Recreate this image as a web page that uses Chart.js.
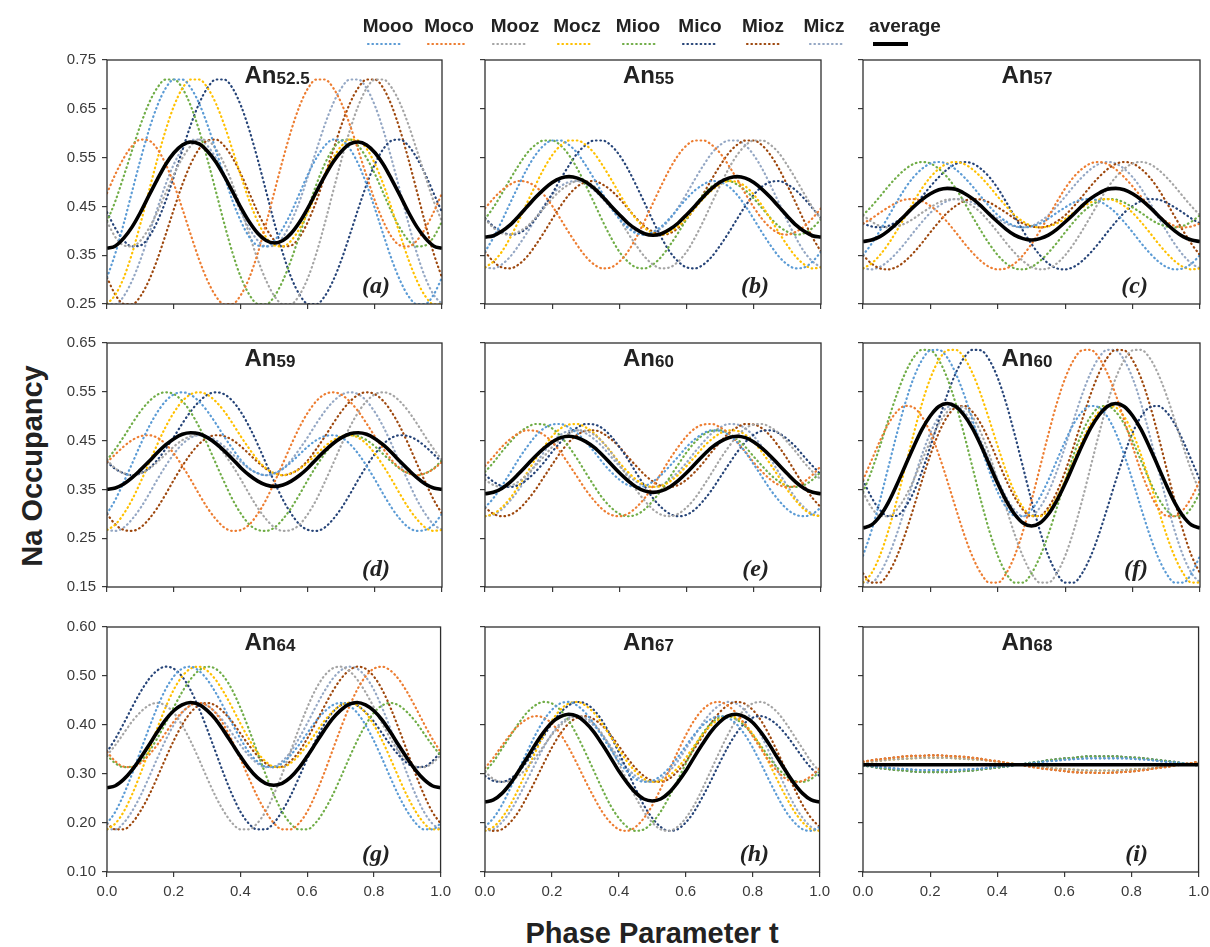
<!DOCTYPE html>
<html>
<head>
<meta charset="utf-8">
<title>Na Occupancy vs Phase Parameter t</title>
<script src="https://cdn.jsdelivr.net/npm/chart.js@4.4.1/dist/chart.umd.min.js"></script>
<style>
  html, body { margin: 0; padding: 0; background: #ffffff; }
  body { width: 1210px; height: 947px; position: relative; overflow: hidden;
         font-family: "Liberation Sans", Arial, Helvetica, sans-serif; color: #222; }
  canvas.panel { position: absolute; }
  .txt { position: absolute; line-height: 0; white-space: nowrap; }
  .leg { font-weight: bold; font-size: 19px; transform: translateX(-50%); color: #222; }
  .ptitle { font-weight: bold; font-size: 24px; color: #222; }
  .ptitle .sub { font-size: 17px; vertical-align: -1px; }
  .plabel { font-family: "Liberation Serif", "Times New Roman", serif; font-weight: bold; font-style: italic;
            font-size: 24px; transform: translateX(-100%); color: #222; }
  #ytitle { position: absolute; left: 32px; top: 466px; font-weight: bold; font-size: 29px; line-height: 29px;
            white-space: nowrap; transform: translate(-50%, -50%) rotate(-90deg); color: #222; }
  #xtitle { font-weight: bold; font-size: 29px; transform: translateX(-50%); color: #222; }
</style>
</head>
<body>
<canvas id="legendCanvas" width="1210" height="56" style="position:absolute;left:0;top:0;"></canvas>
<div id="ytitle">Na Occupancy</div>
<div id="xtitle" class="txt" style="left:652px;top:933px;">Phase Parameter t</div>
<script>
// ---- phase parameter samples (shared x values) ----
const T = [0,.025,.05,.075,.1,.125,.15,.175,.2,.225,.25,.275,.3,.325,.35,.375,.4,.425,.45,.475,.5,
           .525,.55,.575,.6,.625,.65,.675,.7,.725,.75,.775,.8,.825,.85,.875,.9,.925,.95,.975,1];

// ---- axis ticks ----
const X_TICKS = [0, 0.2, 0.4, 0.6, 0.8, 1.0];
const X_TICK_LABELS = ['0.0', '0.2', '0.4', '0.6', '0.8', '1.0'];
const Y_TICKS_TOP = [0.25, 0.35, 0.45, 0.55, 0.65, 0.75];
const Y_LABELS_TOP = ['0.25', '0.35', '0.45', '0.55', '0.65', '0.75'];
const Y_TICKS_MID = [0.15, 0.25, 0.35, 0.45, 0.55, 0.65];
const Y_LABELS_MID = ['0.15', '0.25', '0.35', '0.45', '0.55', '0.65'];
const Y_TICKS_BOT = [0.10, 0.20, 0.30, 0.40, 0.50, 0.60];
const Y_LABELS_BOT = ['0.10', '0.20', '0.30', '0.40', '0.50', '0.60'];

// ---- series ----
const SERIES_NAMES = ['Mooo', 'Moco', 'Mooz', 'Mocz', 'Mioo', 'Mico', 'Mioz', 'Micz'];
const SERIES_COLORS = ['#5B9BD5', '#ED7D31', '#A5A5A5', '#FFC000', '#70AD47', '#264478', '#9E480E', '#94A7C4'];

// (a) An52.5
const a_Mooo = [.304,.354,.415,.481,.546,.606,.656,.692,.710,.710,.693,.661,.617,.565,.512,.461,.419,.387,.370,.368,.380,.405,.438,.477,.516,.549,.574,.587,.585,.568,.537,.495,.445,.392,.341,.298,.266,.249,.250,.269,.304];
const a_Moco = [.477,.516,.549,.574,.587,.585,.568,.537,.495,.445,.392,.341,.298,.266,.249,.250,.269,.304,.354,.415,.481,.546,.606,.656,.692,.710,.710,.693,.661,.617,.565,.512,.461,.419,.387,.370,.368,.380,.405,.438,.477];
const a_Mooz = [.419,.387,.370,.368,.380,.405,.438,.477,.516,.549,.574,.587,.585,.568,.537,.495,.445,.392,.341,.298,.266,.249,.250,.269,.304,.354,.415,.481,.546,.606,.656,.692,.710,.710,.693,.661,.617,.565,.512,.461,.419];
const a_Mocz = [.250,.269,.304,.354,.415,.481,.546,.606,.656,.692,.710,.710,.693,.661,.617,.565,.512,.461,.419,.387,.370,.368,.380,.405,.438,.477,.516,.549,.574,.587,.585,.568,.537,.495,.445,.392,.341,.298,.266,.249,.250];
const a_Mioo = [.419,.461,.512,.565,.617,.661,.693,.710,.710,.692,.656,.606,.546,.481,.415,.354,.304,.269,.250,.249,.266,.298,.341,.392,.445,.495,.537,.568,.585,.587,.574,.549,.516,.477,.438,.405,.380,.368,.370,.387,.419];
const a_Mico = [.438,.405,.380,.368,.370,.387,.419,.461,.512,.565,.617,.661,.693,.710,.710,.692,.656,.606,.546,.481,.415,.354,.304,.269,.250,.249,.266,.298,.341,.392,.445,.495,.537,.568,.585,.587,.574,.549,.516,.477,.438];
const a_Mioz = [.304,.269,.250,.249,.266,.298,.341,.392,.445,.495,.537,.568,.585,.587,.574,.549,.516,.477,.438,.405,.380,.368,.370,.387,.419,.461,.512,.565,.617,.661,.693,.710,.710,.692,.656,.606,.546,.481,.415,.354,.304];
const a_Micz = [.250,.249,.266,.298,.341,.392,.445,.495,.537,.568,.585,.587,.574,.549,.516,.477,.438,.405,.380,.368,.370,.387,.419,.461,.512,.565,.617,.661,.693,.710,.710,.692,.656,.606,.546,.481,.415,.354,.304,.269,.250];
const a_avg  = [.364,.369,.385,.408,.438,.472,.505,.536,.560,.576,.582,.578,.563,.541,.512,.480,.447,.418,.395,.380,.375,.380,.395,.418,.447,.480,.512,.541,.563,.578,.582,.576,.560,.536,.505,.472,.438,.408,.385,.369,.364];

// (b) An55
const b_Mooo = [.357,.386,.420,.457,.493,.527,.555,.575,.585,.585,.576,.559,.534,.506,.476,.448,.424,.406,.395,.392,.398,.409,.426,.446,.466,.483,.495,.502,.500,.491,.474,.451,.424,.396,.370,.347,.331,.323,.325,.337,.357];
const b_Moco = [.446,.466,.483,.495,.502,.500,.491,.474,.451,.424,.396,.370,.347,.331,.323,.325,.337,.357,.386,.420,.457,.493,.527,.555,.575,.585,.585,.576,.559,.534,.506,.476,.448,.424,.406,.395,.392,.398,.409,.426,.446];
const b_Mooz = [.424,.406,.395,.392,.398,.409,.426,.446,.466,.483,.495,.502,.500,.491,.474,.451,.424,.396,.370,.347,.331,.323,.325,.337,.357,.386,.420,.457,.493,.527,.555,.575,.585,.585,.576,.559,.534,.506,.476,.448,.424];
const b_Mocz = [.325,.337,.357,.386,.420,.457,.493,.527,.555,.575,.585,.585,.576,.559,.534,.506,.476,.448,.424,.406,.395,.392,.398,.409,.426,.446,.466,.483,.495,.502,.500,.491,.474,.451,.424,.396,.370,.347,.331,.323,.325];
const b_Mioo = [.424,.448,.476,.506,.534,.559,.576,.585,.585,.575,.555,.527,.493,.457,.420,.386,.357,.337,.325,.323,.331,.347,.370,.396,.424,.451,.474,.491,.500,.502,.495,.483,.466,.446,.426,.409,.398,.392,.395,.406,.424];
const b_Mico = [.426,.409,.398,.392,.395,.406,.424,.448,.476,.506,.534,.559,.576,.585,.585,.575,.555,.527,.493,.457,.420,.386,.357,.337,.325,.323,.331,.347,.370,.396,.424,.451,.474,.491,.500,.502,.495,.483,.466,.446,.426];
const b_Mioz = [.357,.337,.325,.323,.331,.347,.370,.396,.424,.451,.474,.491,.500,.502,.495,.483,.466,.446,.426,.409,.398,.392,.395,.406,.424,.448,.476,.506,.534,.559,.576,.585,.585,.575,.555,.527,.493,.457,.420,.386,.357];
const b_Micz = [.325,.323,.331,.347,.370,.396,.424,.451,.474,.491,.500,.502,.495,.483,.466,.446,.426,.409,.398,.392,.395,.406,.424,.448,.476,.506,.534,.559,.576,.585,.585,.575,.555,.527,.493,.457,.420,.386,.357,.337,.325];
const b_avg  = [.387,.390,.399,.412,.430,.449,.468,.485,.499,.508,.511,.508,.500,.487,.470,.451,.433,.416,.403,.394,.391,.394,.403,.416,.433,.451,.470,.487,.500,.508,.511,.508,.499,.485,.468,.449,.430,.412,.399,.390,.387];

// (c) An57
const c_Mooo = [.350,.373,.400,.429,.459,.487,.510,.527,.538,.541,.537,.526,.510,.491,.470,.450,.432,.419,.410,.407,.409,.415,.425,.437,.448,.458,.464,.465,.461,.451,.437,.418,.397,.375,.355,.338,.326,.321,.323,.333,.350];
const c_Moco = [.415,.425,.437,.448,.458,.464,.465,.461,.451,.437,.418,.397,.375,.355,.338,.326,.321,.323,.333,.350,.373,.400,.429,.459,.487,.510,.527,.538,.541,.537,.526,.510,.491,.470,.450,.432,.419,.410,.407,.409,.415];
const c_Mooz = [.432,.419,.410,.407,.409,.415,.425,.437,.448,.458,.464,.465,.461,.451,.437,.418,.397,.375,.355,.338,.326,.321,.323,.333,.350,.373,.400,.429,.459,.487,.510,.527,.538,.541,.537,.526,.510,.491,.470,.450,.432];
const c_Mocz = [.323,.333,.350,.373,.400,.429,.459,.487,.510,.527,.538,.541,.537,.526,.510,.491,.470,.450,.432,.419,.410,.407,.409,.415,.425,.437,.448,.458,.464,.465,.461,.451,.437,.418,.397,.375,.355,.338,.326,.321,.323];
const c_Mioo = [.432,.450,.470,.491,.510,.526,.537,.541,.538,.527,.510,.487,.459,.429,.400,.373,.350,.333,.323,.321,.326,.338,.355,.375,.397,.418,.437,.451,.461,.465,.464,.458,.448,.437,.425,.415,.409,.407,.410,.419,.432];
const c_Mico = [.415,.409,.407,.410,.419,.432,.450,.470,.491,.510,.526,.537,.541,.538,.527,.510,.487,.459,.429,.400,.373,.350,.333,.323,.321,.326,.338,.355,.375,.397,.418,.437,.451,.461,.465,.464,.458,.448,.437,.425,.415];
const c_Mioz = [.350,.333,.323,.321,.326,.338,.355,.375,.397,.418,.437,.451,.461,.465,.464,.458,.448,.437,.425,.415,.409,.407,.410,.419,.432,.450,.470,.491,.510,.526,.537,.541,.538,.527,.510,.487,.459,.429,.400,.373,.350];
const c_Micz = [.323,.321,.326,.338,.355,.375,.397,.418,.437,.451,.461,.465,.464,.458,.448,.437,.425,.415,.409,.407,.410,.419,.432,.450,.470,.491,.510,.526,.537,.541,.538,.527,.510,.487,.459,.429,.400,.373,.350,.333,.323];
const c_avg  = [.378,.381,.388,.400,.415,.432,.449,.464,.476,.484,.487,.485,.477,.466,.451,.434,.418,.403,.391,.384,.381,.384,.391,.403,.418,.434,.451,.466,.477,.485,.487,.484,.476,.464,.449,.432,.415,.400,.388,.381,.378];

// (d) An59
const d_Mooo = [.300,.329,.365,.403,.442,.478,.508,.531,.545,.549,.544,.530,.510,.485,.458,.433,.410,.393,.383,.379,.383,.392,.406,.422,.438,.451,.459,.461,.456,.443,.423,.398,.370,.340,.312,.289,.272,.265,.267,.278,.300];
const d_Moco = [.406,.422,.438,.451,.459,.461,.456,.443,.423,.398,.370,.340,.312,.289,.272,.265,.267,.278,.300,.329,.365,.403,.442,.478,.508,.531,.545,.549,.544,.530,.510,.485,.458,.433,.410,.393,.383,.379,.383,.392,.406];
const d_Mooz = [.410,.393,.383,.379,.383,.392,.406,.422,.438,.451,.459,.461,.456,.443,.423,.398,.370,.340,.312,.289,.272,.265,.267,.278,.300,.329,.365,.403,.442,.478,.508,.531,.545,.549,.544,.530,.510,.485,.458,.433,.410];
const d_Mocz = [.267,.278,.300,.329,.365,.403,.442,.478,.508,.531,.545,.549,.544,.530,.510,.485,.458,.433,.410,.393,.383,.379,.383,.392,.406,.422,.438,.451,.459,.461,.456,.443,.423,.398,.370,.340,.312,.289,.272,.265,.267];
const d_Mioo = [.410,.433,.458,.485,.510,.530,.544,.549,.545,.531,.508,.478,.442,.403,.365,.329,.300,.278,.267,.265,.272,.289,.312,.340,.370,.398,.423,.443,.456,.461,.459,.451,.438,.422,.406,.392,.383,.379,.383,.393,.410];
const d_Mico = [.406,.392,.383,.379,.383,.393,.410,.433,.458,.485,.510,.530,.544,.549,.545,.531,.508,.478,.442,.403,.365,.329,.300,.278,.267,.265,.272,.289,.312,.340,.370,.398,.423,.443,.456,.461,.459,.451,.438,.422,.406];
const d_Mioz = [.300,.278,.267,.265,.272,.289,.312,.340,.370,.398,.423,.443,.456,.461,.459,.451,.438,.422,.406,.392,.383,.379,.383,.393,.410,.433,.458,.485,.510,.530,.544,.549,.545,.531,.508,.478,.442,.403,.365,.329,.300];
const d_Micz = [.267,.265,.272,.289,.312,.340,.370,.398,.423,.443,.456,.461,.459,.451,.438,.422,.406,.392,.383,.379,.383,.393,.410,.433,.458,.485,.510,.530,.544,.549,.545,.531,.508,.478,.442,.403,.365,.329,.300,.278,.267];
const d_avg  = [.350,.353,.361,.374,.390,.407,.425,.441,.454,.463,.466,.464,.456,.444,.429,.412,.394,.379,.367,.359,.356,.359,.367,.379,.394,.412,.429,.444,.456,.464,.466,.463,.454,.441,.425,.407,.390,.374,.361,.353,.350];

// (e) An60
const e_Mooo = [.313,.332,.357,.384,.412,.437,.459,.475,.483,.484,.477,.465,.447,.427,.405,.386,.370,.359,.355,.357,.366,.380,.398,.417,.437,.453,.465,.471,.470,.462,.447,.426,.401,.375,.349,.327,.309,.298,.295,.300,.313];
const e_Moco = [.398,.417,.437,.453,.465,.471,.470,.462,.447,.426,.401,.375,.349,.327,.309,.298,.295,.300,.313,.332,.357,.384,.412,.437,.459,.475,.483,.484,.477,.465,.447,.427,.405,.386,.370,.359,.355,.357,.366,.380,.398];
const e_Mooz = [.370,.359,.355,.357,.366,.380,.398,.417,.437,.453,.465,.471,.470,.462,.447,.426,.401,.375,.349,.327,.309,.298,.295,.300,.313,.332,.357,.384,.412,.437,.459,.475,.483,.484,.477,.465,.447,.427,.405,.386,.370];
const e_Mocz = [.295,.300,.313,.332,.357,.384,.412,.437,.459,.475,.483,.484,.477,.465,.447,.427,.405,.386,.370,.359,.355,.357,.366,.380,.398,.417,.437,.453,.465,.471,.470,.462,.447,.426,.401,.375,.349,.327,.309,.298,.295];
const e_Mioo = [.386,.405,.427,.447,.465,.477,.484,.483,.475,.459,.437,.412,.384,.357,.332,.313,.300,.295,.298,.309,.327,.349,.375,.401,.426,.447,.462,.470,.471,.465,.453,.437,.417,.398,.380,.366,.357,.355,.359,.370,.386];
const e_Mico = [.380,.366,.357,.355,.359,.370,.386,.405,.427,.447,.465,.477,.484,.483,.475,.459,.437,.412,.384,.357,.332,.313,.300,.295,.298,.309,.327,.349,.375,.401,.426,.447,.462,.470,.471,.465,.453,.437,.417,.398,.380];
const e_Mioz = [.313,.300,.295,.298,.309,.327,.349,.375,.401,.426,.447,.462,.470,.471,.465,.453,.437,.417,.398,.380,.366,.357,.355,.359,.370,.386,.405,.427,.447,.465,.477,.484,.483,.475,.459,.437,.412,.384,.357,.332,.313];
const e_Micz = [.295,.298,.309,.327,.349,.375,.401,.426,.447,.462,.470,.471,.465,.453,.437,.417,.398,.380,.366,.357,.355,.359,.370,.386,.405,.427,.447,.465,.477,.484,.483,.475,.459,.437,.412,.384,.357,.332,.313,.300,.295];
const e_avg  = [.341,.344,.352,.365,.382,.400,.418,.434,.447,.456,.459,.456,.448,.436,.420,.402,.384,.368,.355,.347,.344,.347,.355,.368,.384,.402,.420,.436,.448,.456,.459,.456,.447,.434,.418,.400,.382,.365,.352,.344,.341];

// (f) An60
const f_Mooo = [.214,.265,.327,.395,.463,.526,.578,.615,.635,.636,.620,.588,.544,.492,.438,.387,.344,.313,.296,.295,.308,.334,.369,.409,.449,.484,.509,.521,.518,.499,.466,.421,.368,.312,.258,.212,.178,.159,.159,.178,.214];
const f_Moco = [.369,.409,.449,.484,.509,.521,.518,.499,.466,.421,.368,.312,.258,.212,.178,.159,.159,.178,.214,.265,.327,.395,.463,.526,.578,.615,.635,.636,.620,.588,.544,.492,.438,.387,.344,.313,.296,.295,.308,.334,.369];
const f_Mooz = [.344,.313,.296,.295,.308,.334,.369,.409,.449,.484,.509,.521,.518,.499,.466,.421,.368,.312,.258,.212,.178,.159,.159,.178,.214,.265,.327,.395,.463,.526,.578,.615,.635,.636,.620,.588,.544,.492,.438,.387,.344];
const f_Mocz = [.159,.178,.214,.265,.327,.395,.463,.526,.578,.615,.635,.636,.620,.588,.544,.492,.438,.387,.344,.313,.296,.295,.308,.334,.369,.409,.449,.484,.509,.521,.518,.499,.466,.421,.368,.312,.258,.212,.178,.159,.159];
const f_Mioo = [.344,.387,.438,.492,.544,.588,.620,.636,.635,.615,.578,.526,.463,.395,.327,.265,.214,.178,.159,.159,.178,.212,.258,.312,.368,.421,.466,.499,.518,.521,.509,.484,.449,.409,.369,.334,.308,.295,.296,.313,.344];
const f_Mico = [.369,.334,.308,.295,.296,.313,.344,.387,.438,.492,.544,.588,.620,.636,.635,.615,.578,.526,.463,.395,.327,.265,.214,.178,.159,.159,.178,.212,.258,.312,.368,.421,.466,.499,.518,.521,.509,.484,.449,.409,.369];
const f_Mioz = [.178,.159,.159,.178,.212,.258,.312,.368,.421,.466,.499,.518,.521,.509,.484,.449,.409,.369,.334,.308,.295,.296,.313,.344,.387,.438,.492,.544,.588,.620,.636,.635,.615,.578,.526,.463,.395,.327,.265,.214,.178];
const f_Micz = [.159,.159,.178,.212,.258,.312,.368,.421,.466,.499,.518,.521,.509,.484,.449,.409,.369,.334,.308,.295,.296,.313,.344,.387,.438,.492,.544,.588,.620,.636,.635,.615,.578,.526,.463,.395,.327,.265,.214,.178,.159];
const f_avg  = [.271,.277,.295,.323,.359,.398,.437,.473,.501,.520,.526,.520,.502,.475,.440,.401,.362,.327,.299,.281,.275,.281,.299,.327,.362,.401,.440,.475,.502,.520,.526,.520,.501,.473,.437,.398,.359,.323,.295,.277,.271];

// (g) An64
const g_Mooo = [.199,.223,.258,.300,.346,.392,.435,.472,.499,.515,.519,.511,.493,.467,.436,.403,.372,.345,.326,.315,.314,.322,.338,.359,.383,.407,.426,.440,.445,.440,.425,.400,.368,.331,.292,.255,.224,.200,.187,.187,.199];
const g_Moco = [.345,.326,.315,.314,.322,.338,.359,.383,.407,.426,.440,.445,.440,.425,.400,.368,.331,.292,.255,.224,.200,.187,.187,.199,.223,.258,.300,.346,.392,.435,.472,.499,.515,.519,.511,.493,.467,.436,.403,.372,.345];
const g_Mooz = [.338,.359,.383,.407,.426,.440,.445,.440,.425,.400,.368,.331,.292,.255,.224,.200,.187,.187,.199,.223,.258,.300,.346,.392,.435,.472,.499,.515,.519,.511,.493,.467,.436,.403,.372,.345,.326,.315,.314,.322,.338];
const g_Mocz = [.187,.199,.223,.258,.300,.346,.392,.435,.472,.499,.515,.519,.511,.493,.467,.436,.403,.372,.345,.326,.315,.314,.322,.338,.359,.383,.407,.426,.440,.445,.440,.425,.400,.368,.331,.292,.255,.224,.200,.187,.187];
const g_Mioo = [.338,.322,.314,.315,.326,.345,.372,.403,.436,.467,.493,.511,.519,.515,.499,.472,.435,.392,.346,.300,.258,.223,.199,.187,.187,.200,.224,.255,.292,.331,.368,.400,.425,.440,.445,.440,.426,.407,.383,.359,.338];
const g_Mico = [.345,.372,.403,.436,.467,.493,.511,.519,.515,.499,.472,.435,.392,.346,.300,.258,.223,.199,.187,.187,.200,.224,.255,.292,.331,.368,.400,.425,.440,.445,.440,.426,.407,.383,.359,.338,.322,.314,.315,.326,.345];
const g_Mioz = [.199,.187,.187,.200,.224,.255,.292,.331,.368,.400,.425,.440,.445,.440,.426,.407,.383,.359,.338,.322,.314,.315,.326,.345,.372,.403,.436,.467,.493,.511,.519,.515,.499,.472,.435,.392,.346,.300,.258,.223,.199];
const g_Micz = [.187,.187,.200,.224,.255,.292,.331,.368,.400,.425,.440,.445,.440,.426,.407,.383,.359,.338,.322,.314,.315,.326,.345,.372,.403,.436,.467,.493,.511,.519,.515,.499,.472,.435,.392,.346,.300,.258,.223,.199,.187];
const g_avg  = [.272,.276,.289,.308,.332,.358,.385,.410,.429,.441,.446,.442,.430,.412,.388,.362,.336,.312,.293,.281,.277,.281,.293,.312,.336,.362,.388,.412,.430,.442,.446,.441,.429,.410,.385,.358,.332,.308,.289,.276,.272];

// (h) An67
const h_Mooo = [.192,.210,.236,.270,.307,.344,.379,.409,.431,.444,.447,.440,.425,.403,.377,.351,.325,.305,.290,.284,.286,.296,.312,.333,.357,.380,.399,.412,.418,.415,.403,.382,.354,.321,.286,.253,.223,.201,.187,.184,.192];
const h_Moco = [.312,.333,.357,.380,.399,.412,.418,.415,.403,.382,.354,.321,.286,.253,.223,.201,.187,.184,.192,.210,.236,.270,.307,.344,.379,.409,.431,.444,.447,.440,.425,.403,.377,.351,.325,.305,.290,.284,.286,.296,.312];
const h_Mooz = [.305,.290,.284,.286,.296,.312,.333,.357,.380,.399,.412,.418,.415,.403,.382,.354,.321,.286,.253,.223,.201,.187,.184,.192,.210,.236,.270,.307,.344,.379,.409,.431,.444,.447,.440,.425,.403,.377,.351,.325,.305];
const h_Mocz = [.184,.192,.210,.236,.270,.307,.344,.379,.409,.431,.444,.447,.440,.425,.403,.377,.351,.325,.305,.290,.284,.286,.296,.312,.333,.357,.380,.399,.412,.418,.415,.403,.382,.354,.321,.286,.253,.223,.201,.187,.184];
const h_Mioo = [.305,.325,.351,.377,.403,.425,.440,.447,.444,.431,.409,.379,.344,.307,.270,.236,.210,.192,.184,.187,.201,.223,.253,.286,.321,.354,.382,.403,.415,.418,.412,.399,.380,.357,.333,.312,.296,.286,.284,.290,.305];
const h_Mico = [.296,.286,.284,.290,.305,.325,.351,.377,.403,.425,.440,.447,.444,.431,.409,.379,.344,.307,.270,.236,.210,.192,.184,.187,.201,.223,.253,.286,.321,.354,.382,.403,.415,.418,.412,.399,.380,.357,.333,.312,.296];
const h_Mioz = [.192,.184,.187,.201,.223,.253,.286,.321,.354,.382,.403,.415,.418,.412,.399,.380,.357,.333,.312,.296,.286,.284,.290,.305,.325,.351,.377,.403,.425,.440,.447,.444,.431,.409,.379,.344,.307,.270,.236,.210,.192];
const h_Micz = [.184,.187,.201,.223,.253,.286,.321,.354,.382,.403,.415,.418,.412,.399,.380,.357,.333,.312,.296,.286,.284,.290,.305,.325,.351,.377,.403,.425,.440,.447,.444,.431,.409,.379,.344,.307,.270,.236,.210,.192,.184];
const h_avg  = [.243,.247,.260,.280,.305,.332,.360,.385,.405,.417,.422,.418,.405,.386,.361,.334,.306,.282,.262,.249,.245,.249,.262,.282,.306,.334,.361,.386,.405,.418,.422,.417,.405,.385,.360,.332,.305,.280,.260,.247,.243];

// (i) An68
const i_Mooo = [.318,.316,.314,.313,.311,.310,.309,.308,.308,.308,.308,.308,.309,.310,.311,.313,.315,.316,.318,.320,.322,.324,.326,.327,.329,.330,.331,.332,.332,.332,.332,.332,.331,.330,.329,.327,.325,.324,.322,.320,.318];
const i_Moco = [.325,.328,.330,.332,.334,.336,.337,.337,.338,.338,.337,.336,.335,.333,.331,.328,.326,.323,.320,.318,.315,.312,.310,.308,.306,.304,.303,.303,.302,.302,.303,.304,.305,.307,.309,.312,.314,.317,.320,.322,.325];
const i_Mooz = [.323,.325,.327,.329,.330,.331,.332,.333,.333,.333,.333,.332,.331,.330,.329,.327,.325,.323,.321,.319,.317,.315,.313,.311,.310,.309,.308,.307,.307,.307,.307,.308,.309,.310,.311,.313,.315,.317,.319,.321,.323];
const i_Mocz = [.323,.325,.327,.329,.330,.331,.332,.333,.333,.333,.333,.332,.331,.330,.329,.327,.325,.323,.321,.319,.317,.315,.313,.311,.310,.309,.308,.307,.307,.307,.307,.308,.309,.310,.311,.313,.315,.317,.319,.321,.323];
const i_Mioo = [.317,.315,.312,.310,.308,.307,.305,.304,.304,.304,.304,.305,.306,.307,.309,.311,.313,.315,.318,.320,.323,.325,.328,.330,.332,.333,.335,.336,.336,.336,.336,.335,.334,.333,.331,.329,.327,.325,.322,.320,.317];
const i_Mico = [.317,.315,.312,.310,.308,.307,.305,.304,.304,.304,.304,.305,.306,.307,.309,.311,.313,.315,.318,.320,.323,.325,.328,.330,.332,.333,.335,.336,.336,.336,.336,.335,.334,.333,.331,.329,.327,.325,.322,.320,.317];
const i_Mioz = [.325,.328,.330,.332,.334,.336,.337,.337,.338,.338,.337,.336,.335,.333,.331,.328,.326,.323,.320,.318,.315,.312,.310,.308,.306,.304,.303,.303,.302,.302,.303,.304,.305,.307,.309,.312,.314,.317,.320,.322,.325];
const i_Micz = [.318,.316,.314,.313,.311,.310,.309,.308,.308,.308,.308,.308,.309,.310,.311,.313,.315,.316,.318,.320,.322,.324,.326,.327,.329,.330,.331,.332,.332,.332,.332,.332,.331,.330,.329,.327,.325,.324,.322,.320,.318];
const i_avg  = [.319,.319,.319,.319,.319,.319,.319,.319,.319,.319,.319,.319,.319,.319,.319,.319,.319,.319,.319,.319,.319,.319,.319,.319,.319,.319,.319,.319,.319,.319,.319,.319,.319,.319,.319,.319,.319,.319,.319,.319,.319];

// ---- panel table built from the arrays above ----
const PANELS = [
  { tag: 'a', an: '52.5', row: 0, col: 0, avg: a_avg, series: [a_Mooo, a_Moco, a_Mooz, a_Mocz, a_Mioo, a_Mico, a_Mioz, a_Micz] },
  { tag: 'b', an: '55',   row: 0, col: 1, avg: b_avg, series: [b_Mooo, b_Moco, b_Mooz, b_Mocz, b_Mioo, b_Mico, b_Mioz, b_Micz] },
  { tag: 'c', an: '57',   row: 0, col: 2, avg: c_avg, series: [c_Mooo, c_Moco, c_Mooz, c_Mocz, c_Mioo, c_Mico, c_Mioz, c_Micz] },
  { tag: 'd', an: '59',   row: 1, col: 0, avg: d_avg, series: [d_Mooo, d_Moco, d_Mooz, d_Mocz, d_Mioo, d_Mico, d_Mioz, d_Micz] },
  { tag: 'e', an: '60',   row: 1, col: 1, avg: e_avg, series: [e_Mooo, e_Moco, e_Mooz, e_Mocz, e_Mioo, e_Mico, e_Mioz, e_Micz] },
  { tag: 'f', an: '60',   row: 1, col: 2, avg: f_avg, series: [f_Mooo, f_Moco, f_Mooz, f_Mocz, f_Mioo, f_Mico, f_Mioz, f_Micz] },
  { tag: 'g', an: '64',   row: 2, col: 0, avg: g_avg, series: [g_Mooo, g_Moco, g_Mooz, g_Mocz, g_Mioo, g_Mico, g_Mioz, g_Micz] },
  { tag: 'h', an: '67',   row: 2, col: 1, avg: h_avg, series: [h_Mooo, h_Moco, h_Mooz, h_Mocz, h_Mioo, h_Mico, h_Mioz, h_Micz] },
  { tag: 'i', an: '68',   row: 2, col: 2, avg: i_avg, series: [i_Mooo, i_Moco, i_Mooz, i_Mocz, i_Mioo, i_Mico, i_Mioz, i_Micz] }
];
const ROW_RANGE = [[0.25, 0.75], [0.15, 0.65], [0.10, 0.60]];
const ROW_TICKS = [Y_TICKS_TOP, Y_TICKS_MID, Y_TICKS_BOT];
const ROW_LABELS = [Y_LABELS_TOP, Y_LABELS_MID, Y_LABELS_BOT];

// ---- page geometry (plot-area edges in px) ----
const COL_X = [[107, 442], [485, 821], [863, 1200]];
const ROW_Y = [[60, 304], [343, 587], [627, 872]];
const PAD_L = 60, PAD_T = 22, PAD_R = 15, PAD_B = 30;
const TICK_FONT = { family: '"Liberation Sans", Arial, sans-serif', size: 15 };
const AXIS_INK = '#3a3a3a';

const toPoints = ys => ys.map((y, i) => ({ x: T[i], y }));

const framePlugin = {
  id: 'frame',
  afterDatasetsDraw(chart) {
    const { ctx, chartArea: a } = chart;
    ctx.save();
    ctx.strokeStyle = '#2e2e2e';
    ctx.lineWidth = 1.3;
    ctx.strokeRect(a.left, a.top, a.right - a.left, a.bottom - a.top);
    ctx.restore();
  }
};

function addText(cls, html, left, top) {
  const d = document.createElement('div');
  d.className = 'txt ' + cls;
  d.innerHTML = html;
  d.style.left = left + 'px';
  d.style.top = top + 'px';
  document.body.appendChild(d);
}

PANELS.forEach(p => {
  const [x0, x1] = COL_X[p.col];
  const [y0, y1] = ROW_Y[p.row];
  const cv = document.createElement('canvas');
  cv.className = 'panel';
  cv.width = x1 - x0 + PAD_L + PAD_R;
  cv.height = y1 - y0 + PAD_T + PAD_B;
  cv.style.width = cv.width + 'px';
  cv.style.height = cv.height + 'px';
  cv.style.left = (x0 - PAD_L) + 'px';
  cv.style.top = (y0 - PAD_T) + 'px';
  document.body.appendChild(cv);

  const dotted = SERIES_NAMES.map((name, k) => ({
    label: name,
    data: toPoints(p.series[k]),
    borderColor: SERIES_COLORS[k],
    borderWidth: 2.2,
    borderDash: [0.6, 3.8],
    borderCapStyle: 'round',
    borderJoinStyle: 'round',
    pointRadius: 0,
    cubicInterpolationMode: 'monotone',
    fill: false,
    order: 1
  }));
  const average = {
    label: 'average',
    data: toPoints(p.avg),
    borderColor: '#000000',
    borderWidth: 3.6,
    pointRadius: 0,
    cubicInterpolationMode: 'monotone',
    fill: false,
    order: 0
  };

  const yTicks = ROW_TICKS[p.row], yLabels = ROW_LABELS[p.row];
  new Chart(cv.getContext('2d'), {
    type: 'line',
    data: { datasets: [average, ...dotted] },
    options: {
      responsive: false,
      animation: false,
      devicePixelRatio: 1,
      events: [],
      layout: { padding: { top: PAD_T, right: PAD_R, left: 0, bottom: 0 } },
      plugins: { legend: { display: false }, tooltip: { enabled: false }, title: { display: false } },
      scales: {
        x: {
          type: 'linear', min: 0, max: 1,
          afterFit(s) { s.height = PAD_B; },
          afterBuildTicks(s) { s.ticks = X_TICKS.map(v => ({ value: v })); },
          ticks: { display: p.row === 2, callback: (v, i) => X_TICK_LABELS[i], font: TICK_FONT, color: AXIS_INK, padding: 6, maxRotation: 0, autoSkip: false },
          grid: { drawOnChartArea: false, drawTicks: true, tickLength: 5, color: AXIS_INK, lineWidth: 1.2 },
          border: { display: false }
        },
        y: {
          type: 'linear', min: ROW_RANGE[p.row][0], max: ROW_RANGE[p.row][1],
          afterFit(s) { s.width = PAD_L; },
          afterBuildTicks(s) { s.ticks = yTicks.map(v => ({ value: v })); },
          ticks: { display: p.col === 0, callback: (v, i) => yLabels[i], font: TICK_FONT, color: AXIS_INK, padding: 6, autoSkip: false },
          grid: { drawOnChartArea: false, drawTicks: true, tickLength: 5, color: AXIS_INK, lineWidth: 1.2 },
          border: { display: false }
        }
      }
    },
    plugins: [framePlugin]
  });

  // panel heading "An" with subscript composition, and the (a)…(i) tag
  const cx = (x0 + x1) / 2;
  addText('ptitle', 'An<span class="sub">' + p.an + '</span>', cx - 30, y0 + 23.5 - 8.3);
  addText('plabel', '(' + p.tag + ')', x1 - 52, y1 - 11 - 8.1);
});

// ---- legend ----
const LEG_ITEMS = [...SERIES_NAMES, 'average'];
const LEG_TEXT_X = [388, 449, 515, 577, 638, 700, 763, 824, 905];
const LEG_LINE_X = [[368, 403], [428, 467], [493, 528], [558, 593], [623, 655], [683, 718], [747, 782], [810, 843], [873, 908]];
LEG_ITEMS.forEach((name, k) => addText('leg', name, LEG_TEXT_X[k], 33 - 6.6));
(function drawLegendSamples() {
  const ctx = document.getElementById('legendCanvas').getContext('2d');
  LEG_ITEMS.forEach((name, k) => {
    const [xa, xb] = LEG_LINE_X[k];
    ctx.save();
    ctx.beginPath();
    ctx.moveTo(xa, 44);
    ctx.lineTo(xb, 44);
    if (k < SERIES_NAMES.length) {
      ctx.strokeStyle = SERIES_COLORS[k];
      ctx.lineWidth = 2.2;
      ctx.lineCap = 'round';
      ctx.setLineDash([0.6, 3.8]);
    } else {
      ctx.strokeStyle = '#000';
      ctx.lineWidth = 4;
    }
    ctx.stroke();
    ctx.restore();
  });
})();
</script>
</body>
</html>
